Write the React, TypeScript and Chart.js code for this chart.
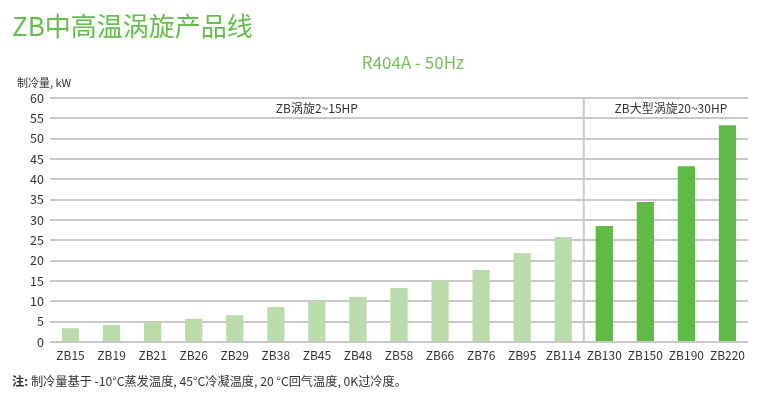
import React, { useEffect, useRef } from "react";
import { Chart, registerables } from "chart.js";

Chart.register(...registerables);

const categories = ["ZB15", "ZB19", "ZB21", "ZB26", "ZB29", "ZB38", "ZB45", "ZB48", "ZB58", "ZB66", "ZB76", "ZB95", "ZB114", "ZB130", "ZB150", "ZB190", "ZB220"];
const capacityKW = [3.4, 4.2, 4.9, 5.7, 6.6, 8.6, 10.1, 11.1, 13.3, 15.0, 17.7, 21.9, 25.8, 28.5, 34.4, 43.2, 53.3];
const groupSplitIndex = 13; // first index of the large-scroll group
const groupLabels = ["ZB涡旋2~15HP", "ZB大型涡旋20~30HP"];
const titleText = "ZB中高温涡旋产品线";
const subtitleText = "R404A - 50Hz";
const yAxisTitle = "制冷量, kW";
const noteLabel = "注:";
const noteText = " 制冷量基于 -10°C蒸发温度, 45°C冷凝温度, 20 °C回气温度, 0K过冷度。";

const FONT = '"Noto Sans CJK SC", "Noto Sans", sans-serif';
const LIGHT = "#badcaa";
const DARK = "#5fbb46";

const textPlugin = {
  id: "texts",
  afterDraw(chart: any) {
    const ctx = chart.ctx;
    const x = chart.scales.x;
    const area = chart.chartArea;
    ctx.save();
    // divider
    const half = (x.getPixelForValue(1) - x.getPixelForValue(0)) / 2;
    const divX = x.getPixelForValue(groupSplitIndex) - half;
    ctx.strokeStyle = "#c8c8c8";
    ctx.lineWidth = 2;
    ctx.beginPath();
    ctx.moveTo(divX, area.top);
    ctx.lineTo(divX, area.bottom);
    ctx.stroke();
    // group labels
    ctx.fillStyle = "#333";
    ctx.font = `12px ${FONT}`;
    ctx.textAlign = "center";
    ctx.textBaseline = "middle";
    ctx.fillText(groupLabels[0], (area.left + divX) / 2, 108);
    ctx.fillText(groupLabels[1], (divX + area.right) / 2 + 5, 108);
    // title
    ctx.textAlign = "left";
    ctx.fillStyle = "#62c04a";
    ctx.font = `26px ${FONT}`;
    ctx.fillText(titleText, 12, 26);
    // subtitle
    ctx.textAlign = "center";
    ctx.fillStyle = "#72c257";
    ctx.font = `17px ${FONT}`;
    ctx.fillText(subtitleText, 413, 63);
    // y title
    ctx.textAlign = "left";
    ctx.fillStyle = "#333";
    ctx.font = `11px ${FONT}`;
    ctx.fillText(yAxisTitle, 17, 83);
    // note
    ctx.font = `bold 12.2px ${FONT}`;
    ctx.fillText(noteLabel, 12, 381);
    const w = ctx.measureText(noteLabel).width;
    ctx.font = `12.2px ${FONT}`;
    ctx.fillText(noteText, 12 + w, 381);
    ctx.restore();
  },
};

export default function App() {
  const ref = useRef<HTMLCanvasElement>(null);
  useEffect(() => {
    if (!ref.current) return;
    const chart = new Chart(ref.current, {
      type: "bar",
      data: {
        labels: categories,
        datasets: [
          {
            data: capacityKW,
            backgroundColor: capacityKW.map((_, i) => (i < groupSplitIndex ? LIGHT : DARK)),
            barPercentage: 0.42,
            categoryPercentage: 1,
          },
        ],
      },
      options: {
        responsive: false,
        animation: false,
        layout: { padding: { left: 0, right: 15, top: 98, bottom: 0 } },
        plugins: { legend: { display: false }, tooltip: { enabled: false }, title: { display: false } },
        scales: {
          x: {
            grid: { display: false, drawTicks: false },
            border: { display: false },
            ticks: { color: "#333", font: { family: FONT, size: 12 }, padding: 6, maxRotation: 0, autoSkip: false },
            afterFit: (s: any) => { s.height = 57; },
          },
          y: {
            min: 0,
            max: 60,
            grid: { color: "#c8c8c8", lineWidth: 2, drawTicks: false },
            border: { display: false },
            ticks: { stepSize: 5, color: "#333", font: { family: FONT, size: 12.5 }, padding: 6 },
            afterFit: (s: any) => { s.width = 50; },
          },
        },
      },
      plugins: [textPlugin],
    });
    return () => chart.destroy();
  }, []);
  return (
    <div style={{ position: "fixed", left: 0, top: 0, width: 763, height: 399, background: "#fff" }}>
      <canvas ref={ref} width={763} height={399} />
    </div>
  );
}
